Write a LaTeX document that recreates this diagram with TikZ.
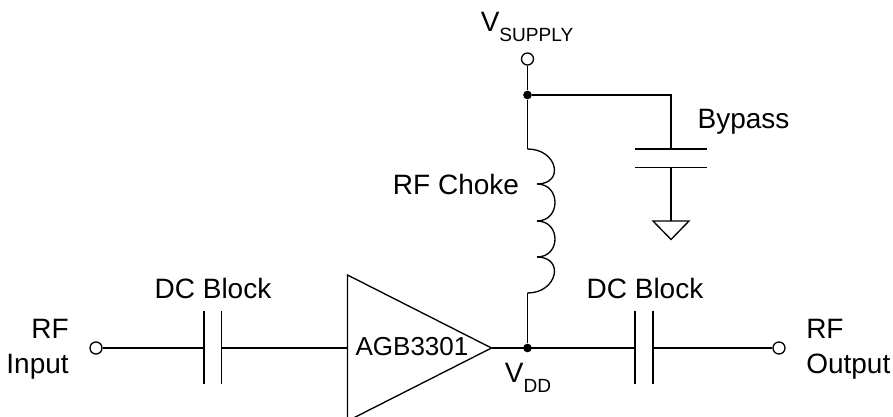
\documentclass[tikz,border=0pt]{standalone}
\usepackage{fontspec}
\setmainfont{Liberation Sans}
\pgfdeclarelayer{edgelayer}
\pgfdeclarelayer{nodelayer}
\pgfsetlayers{edgelayer,nodelayer,main}
\tikzstyle{none}=[inner sep=0pt,outer sep=0pt,minimum size=0pt]
\tikzstyle{terminal}=[circle,draw=black,fill=white,line width=1pt,minimum size=9pt,inner sep=0pt]
\tikzstyle{junction}=[circle,fill=black,minimum size=6.5pt,inner sep=0pt]
\tikzstyle{label}=[inner sep=0pt,font=\fontsize{21pt}{26pt}\selectfont]
\tikzstyle{wire}=[draw=black,line width=1pt]
\tikzstyle{lobe}=[wire,out=0,in=0,distance=18pt]
\newcommand{\sublabel}[2]{#1\raisebox{-7pt}{\fontsize{14.3pt}{16pt}\selectfont #2}}

\begin{document}
\begin{tikzpicture}[x=0.75pt,y=-0.75pt]
	\useasboundingbox (0,0) rectangle (893,417);
	\begin{pgfonlayer}{nodelayer}
		\node [style=terminal] (supply) at (527.5, 59) {};
		\node [style=terminal] (input) at (96, 348) {};
		\node [style=terminal] (output) at (779, 348) {};
		\node [style=junction] (top) at (527.5, 95) {};
		\node [style=junction] (vdd) at (527.5, 348) {};
		\node [style=none] (corner) at (671, 95) {};
		% bypass capacitor and ground
		\node [style=none] (bp1) at (671, 149) {};
		\node [style=none] (bp1l) at (635, 149) {};
		\node [style=none] (bp1r) at (707, 149) {};
		\node [style=none] (bp2) at (671, 167.5) {};
		\node [style=none] (bp2l) at (635, 167.5) {};
		\node [style=none] (bp2r) at (707, 167.5) {};
		\node [style=none] (gnd) at (671, 221) {};
		\node [style=none] (gndl) at (653, 221) {};
		\node [style=none] (gndr) at (689, 221) {};
		\node [style=none] (gndb) at (671, 239.5) {};
		% choke
		\node [style=none] (ch0) at (527.5, 149) {};
		\node [style=none] (ch1) at (537, 184) {};
		\node [style=none] (ch2) at (537, 221) {};
		\node [style=none] (ch3) at (537, 257) {};
		\node [style=none] (ch4) at (527.5, 293) {};
		% DC blocks
		\node [style=none] (in1) at (204, 348) {};
		\node [style=none] (in1t) at (204, 311) {};
		\node [style=none] (in1b) at (204, 384) {};
		\node [style=none] (in2) at (221.5, 348) {};
		\node [style=none] (in2t) at (221.5, 311) {};
		\node [style=none] (in2b) at (221.5, 384) {};
		\node [style=none] (out1) at (635, 348) {};
		\node [style=none] (out1t) at (635, 311) {};
		\node [style=none] (out1b) at (635, 384) {};
		\node [style=none] (out2) at (653, 348) {};
		\node [style=none] (out2t) at (653, 311) {};
		\node [style=none] (out2b) at (653, 384) {};
		% amplifier
		\node [style=none] (ampl) at (347.5, 348) {};
		\node [style=none] (ampt) at (347.5, 275) {};
		\node [style=none] (ampb) at (347.5, 421) {};
		\node [style=none] (ampr) at (491.5, 348) {};
		% labels
		\node [style=label] (lsupply) at (527, 27) {\sublabel{V}{SUPPLY}};
		\node [style=label] (lvdd) at (528, 378) {\sublabel{V}{DD}};
		\node [style=label] (lbypass) at (743.5, 122) {Bypass};
		\node [style=label] (lchoke) at (456, 184.5) {RF Choke};
		\node [style=label] (lamp) at (412, 347) {\fontsize{19.5pt}{22pt}\selectfont AGB3301};
		\node [style=label] (lblock1) at (213, 288) {DC Block};
		\node [style=label] (lblock2) at (645, 288) {DC Block};
		\node [style=label,align=right,anchor=east] (lin) at (69, 349) {RF\\Input};
		\node [style=label,align=left,anchor=west] (lout) at (806, 349) {RF\\Output};
	\end{pgfonlayer}
	\begin{pgfonlayer}{edgelayer}
		\draw [style=wire] (supply) to (top);
		\draw [style=wire] (top) to (ch0);
		\draw [style=wire] (top) to (corner.center) to (bp1);
		\draw [style=wire] (bp1l) to (bp1r);
		\draw [style=wire] (bp2l) to (bp2r);
		\draw [style=wire] (bp2) to (gnd);
		\draw [style=wire,line join=miter] (gndl.center) to (gndr.center) to (gndb.center) to cycle;
		\draw [style=lobe,out distance=22.5pt,in distance=21pt] (ch0) to (ch1);
		\draw [style=lobe] (ch1) to (ch2);
		\draw [style=lobe] (ch2) to (ch3);
		\draw [style=lobe,out distance=21pt,in distance=22.5pt] (ch3) to (ch4);
		\draw [style=wire] (ch4) to (vdd);
		\draw [style=wire] (input) to (in1);
		\draw [style=wire] (in1t) to (in1b);
		\draw [style=wire] (in2t) to (in2b);
		\draw [style=wire] (in2) to (ampl);
		\draw [style=wire,line join=miter] (ampt.center) to (ampr.center) to (ampb.center) to cycle;
		\draw [style=wire] (ampr) to (out1);
		\draw [style=wire] (out1t) to (out1b);
		\draw [style=wire] (out2t) to (out2b);
		\draw [style=wire] (out2) to (output);
	\end{pgfonlayer}
\end{tikzpicture}
\end{document}
